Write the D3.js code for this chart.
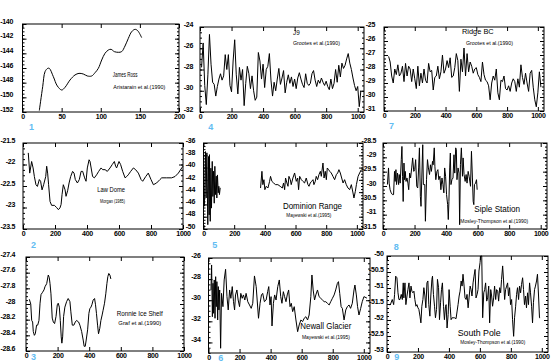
<!DOCTYPE html>
<html>
<head>
<meta charset="utf-8">
<script src="https://cdn.jsdelivr.net/npm/d3@7"></script>
<style>
body { margin: 0; background: #fff; }
svg text { font-family: "Liberation Sans", Arial, sans-serif; }
</style>
</head>
<body>
<svg id="chart" width="551" height="362"></svg>
<script>
// ---- data: [year, value] ----
const jamesRoss = [[21.5,-151.8],[25.8,-148.55],[28.8,-146.5],[32.2,-146.05],[34.3,-146.05],[39.4,-147.18],[44.5,-148.45],[50.1,-149.0],[54.3,-148.64],[60.7,-147.64],[67.1,-146.95],[72.2,-146.73],[77.7,-146.82],[82.9,-147.09],[88.4,-147.09],[92.7,-146.64],[96.9,-146.05],[101.2,-144.91],[105.4,-144.0],[109.7,-143.55],[113.1,-143.45],[117.4,-143.77],[122.5,-143.86],[126.7,-143.77],[131,-143.0],[135.3,-141.95],[139.5,-141.05],[143.8,-140.73],[147.2,-140.91],[152.3,-141.86]];

const lawDome = [[33,-21.73],[42,-22.2],[54,-21.93],[63,-22.08],[71,-22.28],[81,-22.47],[90,-22.51],[102,-22.35],[110,-22.39],[119,-22.59],[129,-22.47],[142,-22.28],[148,-22.04],[154,-22.2],[160,-22.47],[169,-22.86],[179,-22.95],[196,-22.95],[210,-23.0],[221,-23.05],[231,-23.01],[238,-22.93],[244,-22.7],[252,-22.47],[263,-22.59],[269,-22.74],[279,-22.61],[288,-22.43],[298,-22.28],[310,-22.16],[319,-22.2],[327,-22.35],[340,-22.43],[352,-22.35],[363,-22.16],[373,-22.16],[385,-22.31],[394,-22.39],[402,-22.08],[413,-21.89],[419,-21.93],[435,-22.28],[446,-22.31],[460,-22.24],[473,-22.16],[488,-22.08],[498,-22.12],[513,-22.12],[527,-22.16],[544,-22.08],[558,-22.0],[571,-21.93],[579,-22.04],[585,-22.08],[600,-21.93],[610,-22.0],[623,-22.16],[638,-22.31],[648,-22.28],[658,-22.24],[673,-22.16],[690,-22.08],[704,-22.12],[721,-22.2],[738,-22.35],[748,-22.39],[767,-22.28],[783,-22.2],[800,-22.35],[815,-22.47],[835,-22.43],[856,-22.35],[867,-22.31],[898,-22.31],[929,-22.31],[950,-22.28],[971,-22.2],[992,-22.08],[1000,-22.04]];

const ronneIce = [[21,-27.94],[30,-28.0],[36,-28.21],[42,-28.23],[46,-28.35],[53,-28.4],[59,-28.38],[67,-28.27],[74,-28.27],[82,-28.21],[89,-27.99],[95,-27.88],[105,-27.85],[114,-27.82],[120,-27.78],[131,-27.74],[141,-27.63],[147,-27.66],[152,-27.74],[158,-27.87],[166,-28.18],[173,-28.23],[181,-28.25],[190,-28.16],[198,-28.01],[204,-27.99],[211,-28.04],[217,-28.21],[223,-28.42],[227,-28.5],[232,-28.42],[238,-28.16],[246,-28.04],[257,-27.97],[267,-27.93],[278,-27.97],[284,-28.1],[293,-28.27],[303,-28.27],[312,-28.23],[320,-28.21],[333,-28.23],[341,-28.27],[352,-28.35],[362,-28.46],[368,-28.54],[375,-28.54],[381,-28.46],[390,-28.33],[398,-28.12],[404,-28.06],[411,-28.04],[417,-28.01],[425,-27.95],[434,-27.93],[440,-28.01],[446,-28.12],[453,-28.27],[459,-28.38],[467,-28.31],[474,-28.21],[482,-28.14],[488,-28.08],[497,-27.99],[505,-27.87],[512,-27.74],[518,-27.65],[524,-27.61],[531,-27.63],[537,-27.68]];

const j9 = [[10,-27.8],[20,-25.5],[30,-29.5],[40,-31.3],[50,-28.5],[60,-24.7],[70,-27.5],[80,-29.2],[90,-29.4],[100,-30.5],[110,-29.6],[120,-28.9],[130,-28.4],[140,-29.0],[150,-28.6],[160,-26.6],[170,-28.0],[180,-26.6],[190,-29.5],[200,-30.1],[210,-27.2],[220,-25.2],[230,-28.5],[240,-30.3],[250,-27.8],[260,-29.0],[270,-28.0],[280,-31.4],[290,-29.3],[300,-27.7],[310,-28.4],[320,-29.8],[330,-28.6],[340,-30.0],[350,-30.9],[360,-30.6],[370,-26.4],[380,-27.2],[390,-28.9],[400,-27.5],[410,-29.7],[420,-28.0],[430,-27.7],[440,-26.5],[450,-29.0],[460,-30.5],[470,-29.2],[480,-30.0],[490,-28.9],[500,-27.9],[510,-29.4],[520,-28.8],[530,-28.1],[540,-30.2],[550,-29.2],[560,-28.5],[570,-29.3],[580,-28.7],[590,-29.6],[600,-28.9],[610,-29.8],[620,-28.8],[630,-28.3],[640,-28.9],[650,-29.4],[660,-29.7],[670,-28.4],[680,-29.3],[690,-29.5],[700,-29.3],[710,-28.4],[720,-28.1],[730,-29.0],[740,-29.6],[750,-29.0],[760,-29.3],[770,-28.8],[780,-29.2],[790,-29.5],[800,-29.1],[810,-29.6],[820,-29.9],[830,-28.9],[840,-29.8],[850,-29.3],[860,-28.0],[870,-29.2],[880,-27.6],[890,-28.7],[900,-27.4],[910,-27.9],[920,-27.6],[930,-27.0],[940,-26.5],[950,-27.4],[960,-28.0],[970,-28.8],[980,-29.5],[990,-30.0],[1000,-29.6],[1010,-31.5],[1020,-30.0]];

const dominionEarly = [[6,-46.3],[13,-37.4],[17,-44.95],[22,-37.6],[28,-49.3],[33,-38.2],[37,-47.7],[39,-37.9],[44,-48.75],[48,-40.1],[52,-46.6],[57,-39.0],[61,-44.7],[65,-40.6],[70,-45.8],[74,-39.8],[78,-44.4],[83,-41.4],[87,-44.95],[91,-41.2],[96,-44.1],[100,-43.05],[104,-44.4],[109,-43.3]];
const dominionLate = [[372,-43.33],[381,-40.61],[387,-42.78],[394,-41.97],[400,-43.6],[409,-43.05],[420,-43.33],[431,-42.24],[437,-41.43],[446,-42.24],[457,-42.51],[470,-42.78],[485,-42.78],[500,-43.05],[514,-43.33],[522,-42.51],[529,-43.6],[535,-41.7],[544,-42.51],[551,-43.05],[557,-41.43],[566,-41.97],[572,-42.78],[583,-41.7],[594,-40.88],[605,-42.24],[614,-41.7],[620,-43.6],[627,-41.43],[638,-41.97],[648,-42.24],[659,-42.51],[670,-41.7],[681,-42.78],[688,-43.05],[696,-42.51],[705,-42.24],[714,-41.97],[720,-42.78],[729,-42.24],[735,-41.43],[744,-41.97],[753,-41.15],[762,-40.61],[768,-41.43],[779,-39.26],[786,-41.7],[794,-40.61],[801,-41.97],[807,-40.07],[816,-40.34],[823,-40.61],[833,-40.88],[844,-41.43],[855,-41.97],[866,-41.15],[875,-40.88],[883,-40.34],[892,-40.88],[901,-41.7],[910,-42.51],[920,-41.97],[931,-42.78],[942,-43.33],[953,-43.6],[964,-42.78],[975,-44.14],[981,-44.95],[990,-43.87],[997,-42.78],[1008,-41.43],[1018,-40.88],[1029,-40.34]];

const newall = [[16,-29.03],[20,-26.66],[25,-31.56],[29,-28.4],[33,-31.24],[37,-28.08],[42,-31.71],[46,-27.77],[50,-30.61],[54,-28.24],[59,-31.87],[63,-28.71],[67,-30.92],[72,-29.03],[78,-34.55],[84,-29.35],[93,-30.61],[101,-28.08],[110,-27.07],[119,-29.66],[127,-30.92],[136,-29.03],[144,-29.82],[153,-28.71],[161,-30.14],[168,-30.92],[174,-29.5],[183,-29.03],[191,-29.98],[200,-30.61],[208,-29.35],[217,-29.82],[225,-29.5],[234,-29.98],[242,-29.35],[253,-30.14],[264,-30.45],[275,-30.77],[285,-30.29],[296,-27.7],[307,-28.71],[322,-31.71],[332,-30.29],[341,-29.5],[349,-29.35],[360,-30.14],[371,-29.98],[381,-29.19],[388,-28.71],[396,-30.45],[403,-29.66],[409,-32.44],[418,-30.29],[426,-29.5],[435,-29.98],[446,-28.71],[456,-28.08],[465,-29.66],[473,-30.29],[482,-29.19],[490,-29.66],[499,-30.14],[507,-29.5],[516,-29.03],[525,-30.61],[533,-30.29],[542,-31.08],[552,-30.61],[563,-31.87],[574,-32.98],[584,-32.34],[595,-31.87],[606,-32.03],[616,-31.71],[627,-31.56],[638,-31.87],[648,-31.4],[659,-29.66],[666,-27.61],[674,-29.03],[683,-29.98],[691,-29.5],[702,-29.03],[712,-29.66],[723,-29.82],[734,-29.98],[745,-30.14],[755,-30.14],[766,-30.29],[777,-30.45],[787,-30.14],[798,-29.82],[809,-29.5],[819,-29.03],[830,-28.4],[837,-28.24],[845,-29.35],[854,-30.61],[862,-30.77],[873,-31.87],[884,-30.92],[894,-30.61],[905,-30.45],[915,-30.77],[926,-30.29],[937,-29.03],[943,-28.56],[952,-29.5],[960,-30.61],[969,-31.4],[980,-30.77],[990,-30.14],[1001,-29.66],[1020,-29.8]];

const ridgeBC = [[30,-27.1],[40,-27.5],[50,-28.5],[60,-29.0],[70,-28.0],[80,-28.4],[90,-27.7],[100,-28.5],[110,-28.3],[120,-27.8],[130,-28.9],[140,-27.6],[150,-28.5],[160,-27.8],[170,-28.0],[180,-28.9],[190,-28.0],[200,-28.7],[210,-29.4],[220,-27.8],[230,-29.2],[240,-28.3],[250,-29.0],[260,-28.0],[270,-28.8],[280,-29.0],[290,-27.6],[300,-28.2],[310,-28.1],[320,-29.5],[330,-28.6],[340,-28.5],[350,-27.8],[360,-28.7],[370,-28.2],[380,-27.0],[390,-28.3],[400,-28.0],[410,-27.4],[420,-27.9],[430,-27.2],[440,-28.6],[450,-28.5],[460,-27.9],[470,-26.9],[480,-27.4],[490,-29.6],[500,-27.3],[510,-28.2],[520,-26.5],[530,-28.5],[540,-26.9],[550,-28.2],[560,-27.5],[570,-27.8],[580,-28.3],[590,-28.0],[600,-27.9],[610,-28.4],[620,-28.6],[630,-28.9],[640,-27.5],[650,-28.4],[660,-28.8],[670,-28.9],[680,-29.2],[690,-30.2],[700,-29.0],[710,-28.5],[720,-28.8],[730,-28.0],[740,-29.7],[750,-30.2],[760,-28.8],[770,-28.9],[780,-28.5],[790,-29.4],[800,-29.5],[810,-29.2],[820,-29.6],[830,-29.0],[840,-28.7],[850,-28.9],[860,-29.6],[870,-28.7],[880,-29.3],[890,-27.7],[900,-28.6],[910,-29.1],[920,-28.3],[930,-29.0],[940,-29.6],[950,-28.3],[960,-28.1],[970,-29.3],[980,-30.2],[990,-30.7],[1000,-29.7],[1010,-28.2],[1020,-29.3]];

const siple = [[28,-29.95],[35,-29.37],[39,-29.9],[45,-30.13],[52,-30.24],[60,-30.3],[67,-30.3],[73,-29.49],[77,-29.84],[82,-29.43],[86,-29.95],[92,-29.55],[99,-29.95],[103,-29.6],[109,-29.9],[116,-29.08],[120,-28.62],[124,-29.66],[128,-30.54],[133,-29.2],[137,-29.78],[141,-29.49],[146,-29.84],[152,-29.72],[158,-29.9],[163,-30.13],[169,-29.55],[175,-29.72],[182,-29.37],[188,-29.02],[195,-29.49],[201,-29.43],[207,-29.08],[214,-30.01],[220,-30.07],[226,-29.37],[231,-28.67],[237,-30.36],[241,-30.71],[246,-29.72],[252,-28.56],[256,-29.95],[265,-29.95],[269,-31.23],[276,-29.78],[282,-29.08],[288,-29.37],[295,-29.6],[301,-29.26],[307,-29.49],[314,-29.14],[318,-29.26],[325,-28.67],[329,-29.31],[335,-29.78],[342,-29.49],[348,-29.43],[354,-29.78],[361,-29.66],[367,-30.13],[374,-29.72],[380,-29.95],[386,-30.24],[391,-29.37],[397,-29.66],[403,-30.3],[410,-30.65],[414,-31.17],[418,-30.54],[423,-29.37],[427,-28.85],[431,-29.95],[437,-29.78],[444,-29.72],[450,-28.91],[455,-29.55],[461,-28.67],[465,-28.73],[469,-29.78],[476,-29.37],[482,-29.55],[486,-31.35],[491,-29.26],[497,-28.67],[504,-29.66],[508,-29.02],[514,-29.6],[521,-29.84],[527,-29.6],[533,-29.9],[540,-29.49],[546,-29.66],[555,-30.01],[561,-28.79],[567,-29.72],[572,-30.54],[576,-30.65],[580,-29.95],[587,-29.9],[593,-29.78],[597,-30.13]];

const southPole = [[13,-51.52],[22,-51.52],[34,-51.36],[43,-51.52],[49,-51.2],[56,-50.63],[64,-50.68],[71,-51.15],[77,-51.36],[84,-51.36],[92,-51.2],[99,-51.36],[105,-50.84],[109,-51.31],[116,-50.84],[122,-51.52],[129,-51.25],[135,-51.05],[142,-50.84],[148,-51.31],[155,-50.94],[161,-51.1],[167,-51.15],[174,-51.1],[180,-51.36],[187,-51.57],[193,-51.52],[200,-51.62],[206,-51.67],[213,-51.88],[219,-52.09],[225,-51.57],[232,-51.36],[238,-50.99],[245,-51.25],[251,-51.62],[258,-50.84],[264,-50.78],[270,-51.52],[277,-51.88],[283,-51.25],[290,-50.73],[294,-50.63],[300,-51.2],[307,-51.57],[313,-51.93],[320,-51.67],[326,-50.73],[333,-50.99],[339,-51.99],[346,-51.46],[352,-51.05],[358,-50.84],[365,-51.57],[371,-51.99],[378,-51.57],[382,-51.52],[388,-52.25],[395,-51.83],[401,-51.05],[408,-51.57],[414,-51.99],[421,-51.93],[427,-51.93],[436,-51.93],[446,-51.96],[453,-51.72],[459,-51.52],[466,-51.25],[472,-51.1],[479,-50.78],[485,-50.94],[491,-50.57],[498,-50.94],[504,-51.31],[511,-51.36],[517,-51.2],[524,-51.62],[530,-51.31],[537,-50.94],[543,-51.05],[549,-51.25],[556,-50.84],[562,-50.63],[569,-50.42],[575,-51.31],[582,-51.2],[588,-51.05],[594,-50.47],[601,-50.21],[605,-50.0],[612,-50.0],[618,-51.93],[625,-51.15],[631,-51.05],[637,-50.84],[644,-51.41],[650,-51.31],[657,-50.94],[663,-52.09],[670,-51.05],[676,-51.25],[682,-51.57],[689,-51.31],[695,-50.94],[702,-51.36],[708,-51.05],[715,-51.1],[721,-51.41],[728,-50.99],[734,-51.15],[740,-50.73],[747,-50.31],[753,-50.78],[760,-51.36],[766,-51.05],[773,-50.94],[779,-50.84],[785,-51.25],[792,-50.99],[798,-51.52],[805,-51.36],[811,-51.99],[818,-52.51],[824,-51.93],[831,-51.57],[837,-51.2],[843,-50.99],[850,-51.36],[856,-50.94],[863,-51.15],[869,-50.89],[876,-50.68],[882,-51.05],[888,-51.52],[895,-51.25],[901,-51.62],[908,-51.15],[914,-51.52],[921,-50.84],[927,-51.15],[934,-51.57],[940,-52.09],[946,-51.46],[953,-51.05],[959,-50.94],[966,-50.78],[972,-50.57],[979,-51.25],[985,-51.93],[989,-51.93]];

// tick labels
const yearTicks = [0, 200, 400, 600, 800, 1000];
const jamesRossXTicks = [0, 50, 100, 150, 200];
const jamesRossYTicks = [-140, -142, -144, -146, -148, -150, -152];
const lawDomeYTicks = [-21.5, -22, -22.5, -23, -23.5];
const ronneYTicks = [-27.4, -27.6, -27.8, -28, -28.2, -28.4, -28.6];
const j9YTicks = [-24, -26, -28, -30, -32];
const dominionYTicks = [-36, -38, -40, -42, -44, -46, -48, -50];
const newallYTicks = [-26, -28, -30, -32, -34];
const ridgeYTicks = [-25, -26, -27, -28, -29, -30, -31];
const sipleYTicks = [-28.5, -29, -29.5, -30, -30.5, -31, -31.5];
const southPoleYTicks = [-50, -50.5, -51, -51.5, -52, -52.5, -53];

const siteNames = ["James Ross", "Law Dome", "Ronnie Ice Shelf", "J9", "Dominion Range", "Newall Glacier", "Ridge BC", "Siple Station", "South Pole"];
const siteRefs = ["Aristarain et al.(1990)", "Morgan (1985)", "Graf et al.(1990)", "Grootes et al.(1990)", "Mayewski et al.(1995)", "Mayewski et al.(1995)", "Grootes et al.(1990)", "Mosley-Thompson et al.(1990)", "Mosley-Thompson et al.(1990)"];
const panelNumbers = ["1", "2", "3", "4", "5", "6", "7", "8", "9"];

// ---- layout (pixels) ----
const panels = [
  {series: [jamesRoss], smooth: true, xDom: [0, 200], yDom: [-152, -140], xTicks: jamesRossXTicks, yTicks: jamesRossYTicks,
   box: [22.5, 24, 179, 112], gap: 9.5, title: [112.7, 77.3, 7, 24.7], ref: [113.3, 89, 5.5, 52], num: [31.5, 129.5]},
  {series: [lawDome], xDom: [0, 1000], yDom: [-23.5, -21.5], xTicks: yearTicks, yTicks: lawDomeYTicks,
   box: [23, 143, 183, 229], gap: 8, title: [97.3, 192, 8, 27.7], ref: [100, 203, 5.5, 25], num: [33.5, 247.5]},
  {series: [ronneIce], xDom: [0, 1000], yDom: [-28.6, -27.4], xTicks: yearTicks, yTicks: ronneYTicks,
   box: [26, 257, 184, 351], gap: 11, title: [116.7, 315.5, 7.5, 46], ref: [118.3, 324.5, 5.5, 43], num: [33.5, 359.5]},
  {series: [j9], xDom: [0, 1040], yDom: [-32, -24], xTicks: yearTicks, yTicks: j9YTicks,
   box: [200, 27, 364, 112], gap: 7, title: [293, 35, 8, 6.7], ref: [293, 45, 5.5, 47], num: [210.8, 130]},
  {series: [dominionEarly, dominionLate], xDom: [0, 1040], yDom: [-50, -36], xTicks: yearTicks, yTicks: dominionYTicks,
   box: [203.5, 143, 363, 229], gap: 8.5, title: [283, 208.7, 9, 59], ref: [286.3, 217, 5.5, 45], num: [214.8, 248]},
  {series: [newall], xDom: [0, 1040], yDom: [-35, -26], xTicks: yearTicks, yTicks: newallYTicks,
   box: [208.5, 258, 370, 353], gap: 8, title: [300.3, 329, 9, 51], ref: [302, 338.7, 5.5, 48], num: [220.8, 360.5]},
  {series: [ridgeBC], xDom: [0, 1040], yDom: [-31, -25], xTicks: yearTicks, yTicks: ridgeYTicks,
   box: [384, 27, 544, 111], gap: 9, title: [462, 34, 8, 31.7], ref: [466, 45, 5.5, 47], num: [391.5, 128.5]},
  {series: [siple], xDom: [0, 1040], yDom: [-31.5, -28.5], xTicks: yearTicks, yTicks: sipleYTicks,
   box: [383, 143, 547, 229], gap: 7, title: [474.3, 212, 9, 45.7], ref: [460.3, 223, 5.5, 68], num: [396.3, 250]},
  {series: [southPole], xDom: [0, 1040], yDom: [-53, -50], xTicks: yearTicks, yTicks: southPoleYTicks,
   box: [387, 256, 548, 352], gap: 3.5, title: [457.7, 335.5, 9, 43], ref: [460.3, 344, 5.5, 65], num: [396.8, 359.5]}
];

const svg = d3.select("#chart");
const fmt = d => String(d);
const noDomain = a => a.select(".domain").remove();

panels.forEach((p, i) => {
  const [left, top, right, bottom] = p.box;
  const x = d3.scaleLinear().domain(p.xDom).range([left, right]);
  const y = d3.scaleLinear().domain(p.yDom).range([bottom, top]);
  const g = svg.append("g");

  // minor y ticks: four per major step
  const step = Math.abs(p.yTicks[1] - p.yTicks[0]) / 4;
  const minor = d3.range(p.yDom[0], p.yDom[1] + step / 2, step);

  const bx = g.append("g").attr("transform", `translate(0,${bottom})`)
    .call(d3.axisBottom(x).tickValues(p.xTicks).tickSize(-4).tickSizeOuter(0).tickPadding(2).tickFormat(fmt))
    .call(noDomain);
  g.append("g").attr("transform", `translate(0,${top})`)
    .call(d3.axisTop(x).tickValues(p.xTicks).tickSize(-4).tickSizeOuter(0).tickFormat(""))
    .call(noDomain);
  const ly = g.append("g").attr("transform", `translate(${left},0)`)
    .call(d3.axisLeft(y).tickValues(p.yTicks).tickSize(-4).tickSizeOuter(0).tickPadding(p.gap).tickFormat(fmt))
    .call(noDomain);
  g.append("g").attr("transform", `translate(${right},0)`)
    .call(d3.axisRight(y).tickValues(p.yTicks).tickSize(-4).tickSizeOuter(0).tickFormat(""))
    .call(noDomain);
  g.append("g").attr("transform", `translate(${left},0)`)
    .call(d3.axisLeft(y).tickValues(minor).tickSize(-2).tickSizeOuter(0).tickFormat(""))
    .call(noDomain);
  g.append("g").attr("transform", `translate(${right},0)`)
    .call(d3.axisRight(y).tickValues(minor).tickSize(-2).tickSizeOuter(0).tickFormat(""))
    .call(noDomain);

  [bx, ly].forEach(a => a.attr("font-size", 7).attr("font-family", null)
    .selectAll("text").attr("font-weight", "bold").style("letter-spacing", "-0.3px"));
  ly.selectAll("text").attr("dy", "-0.8");

  g.selectAll("line").attr("stroke", "#000").attr("stroke-width", 1);

  g.append("rect")
    .attr("x", left).attr("y", top)
    .attr("width", right - left).attr("height", bottom - top)
    .attr("fill", "none").attr("stroke", "#000").attr("stroke-width", 1);

  const line = d3.line().x(d => x(d[0])).y(d => y(d[1]));
  if (p.smooth) line.curve(d3.curveCatmullRom);
  p.series.forEach(s => {
    g.append("path").datum(s)
      .attr("d", line)
      .attr("fill", "none")
      .attr("stroke", "#000")
      .attr("stroke-width", 1);
  });

  g.append("text")
    .attr("x", p.title[0]).attr("y", p.title[1])
    .attr("font-size", p.title[2])
    .attr("textLength", p.title[3]).attr("lengthAdjust", "spacingAndGlyphs")
    .text(siteNames[i]);
  g.append("text")
    .attr("x", p.ref[0]).attr("y", p.ref[1])
    .attr("font-size", p.ref[2])
    .attr("textLength", p.ref[3]).attr("lengthAdjust", "spacingAndGlyphs")
    .text(siteRefs[i]);

  svg.append("text")
    .attr("x", p.num[0]).attr("y", p.num[1])
    .attr("text-anchor", "middle")
    .attr("font-size", 9).attr("font-weight", "bold")
    .attr("fill", "#62bcf2")
    .text(panelNumbers[i]);
});
</script>
</body>
</html>
